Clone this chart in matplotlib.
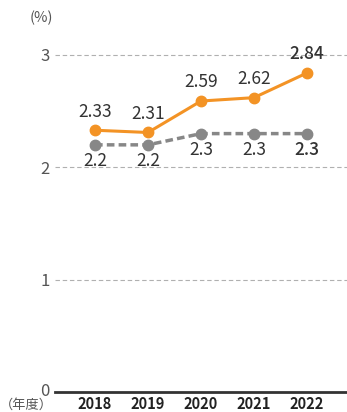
import matplotlib
matplotlib.use("Agg")
import matplotlib.pyplot as plt
import matplotlib.transforms as mtransforms

years = ["2018", "2019", "2020", "2021", "2022"]
company = [2.33, 2.31, 2.59, 2.62, 2.84]
company_labels = ["2.33", "2.31", "2.59", "2.62", "2.84"]
legal = [2.2, 2.2, 2.3, 2.3, 2.3]
legal_labels = ["2.2", "2.2", "2.3", "2.3", "2.3"]
yticks = [0, 1, 2, 3]

plt.rcParams['font.family'] = ['Noto Sans CJK JP', 'DejaVu Sans']

fig = plt.figure(figsize=(3.47, 4.12), dpi=100)
ax = fig.add_axes([55/347, 20/412, 292/347, (392-32.5)/412])

x = list(range(len(years)))
ax.plot(x, legal, color="#878787", lw=2.5, ls=(0, (2.2, 1.2)), marker="o", ms=7.5, zorder=3)
ax.plot(x, company, color="#F39325", lw=2.2, marker="o", ms=7.5, zorder=4)

for i in x:
    w = "medium" if i == 4 else "normal"
    ax.annotate(company_labels[i], (i, company[i]), xytext=(0, 7), textcoords="offset points",
                ha="center", va="bottom", fontsize=12.5, color="#333333", weight=w)
    ax.annotate(legal_labels[i], (i, legal[i]), xytext=(0, -5), textcoords="offset points",
                ha="center", va="top", fontsize=12.5, color="#333333", weight=w)

ax.set_xlim(-0.755, 4.755)
ax.set_ylim(0, 3.2)
ax.set_yticks(yticks)
ax.set_yticklabels([str(v) for v in yticks], fontsize=12, color="#555555")
ax.set_xticks(x)
ax.set_xticklabels(years, fontsize=10.5, weight="bold", color="#222222")
ax.tick_params(axis="x", length=0, pad=3)
ax.tick_params(axis="y", length=0, pad=4)
zero_lbl = ax.get_yticklabels()[0]
zero_lbl.set_transform(zero_lbl.get_transform() + mtransforms.ScaledTranslation(0, 3/100, fig.dpi_scale_trans))
for yv in yticks[1:]:
    ax.axhline(yv, color="#b0b0b0", lw=0.8, ls=(0, (4, 2.5)), zorder=1)
for s in ["top", "right", "left"]:
    ax.spines[s].set_visible(False)
ax.spines["bottom"].set_color("#333333")
ax.spines["bottom"].set_linewidth(2)

fig.text(30/347, 1 - 18/412, "(%)", fontsize=10.5, color="#555555", ha="left", va="center")
fig.text(0/347, 0/412, "（年度）", fontsize=9.5, color="#555555", ha="left", va="bottom")

fig.savefig("out.png", dpi=100)
